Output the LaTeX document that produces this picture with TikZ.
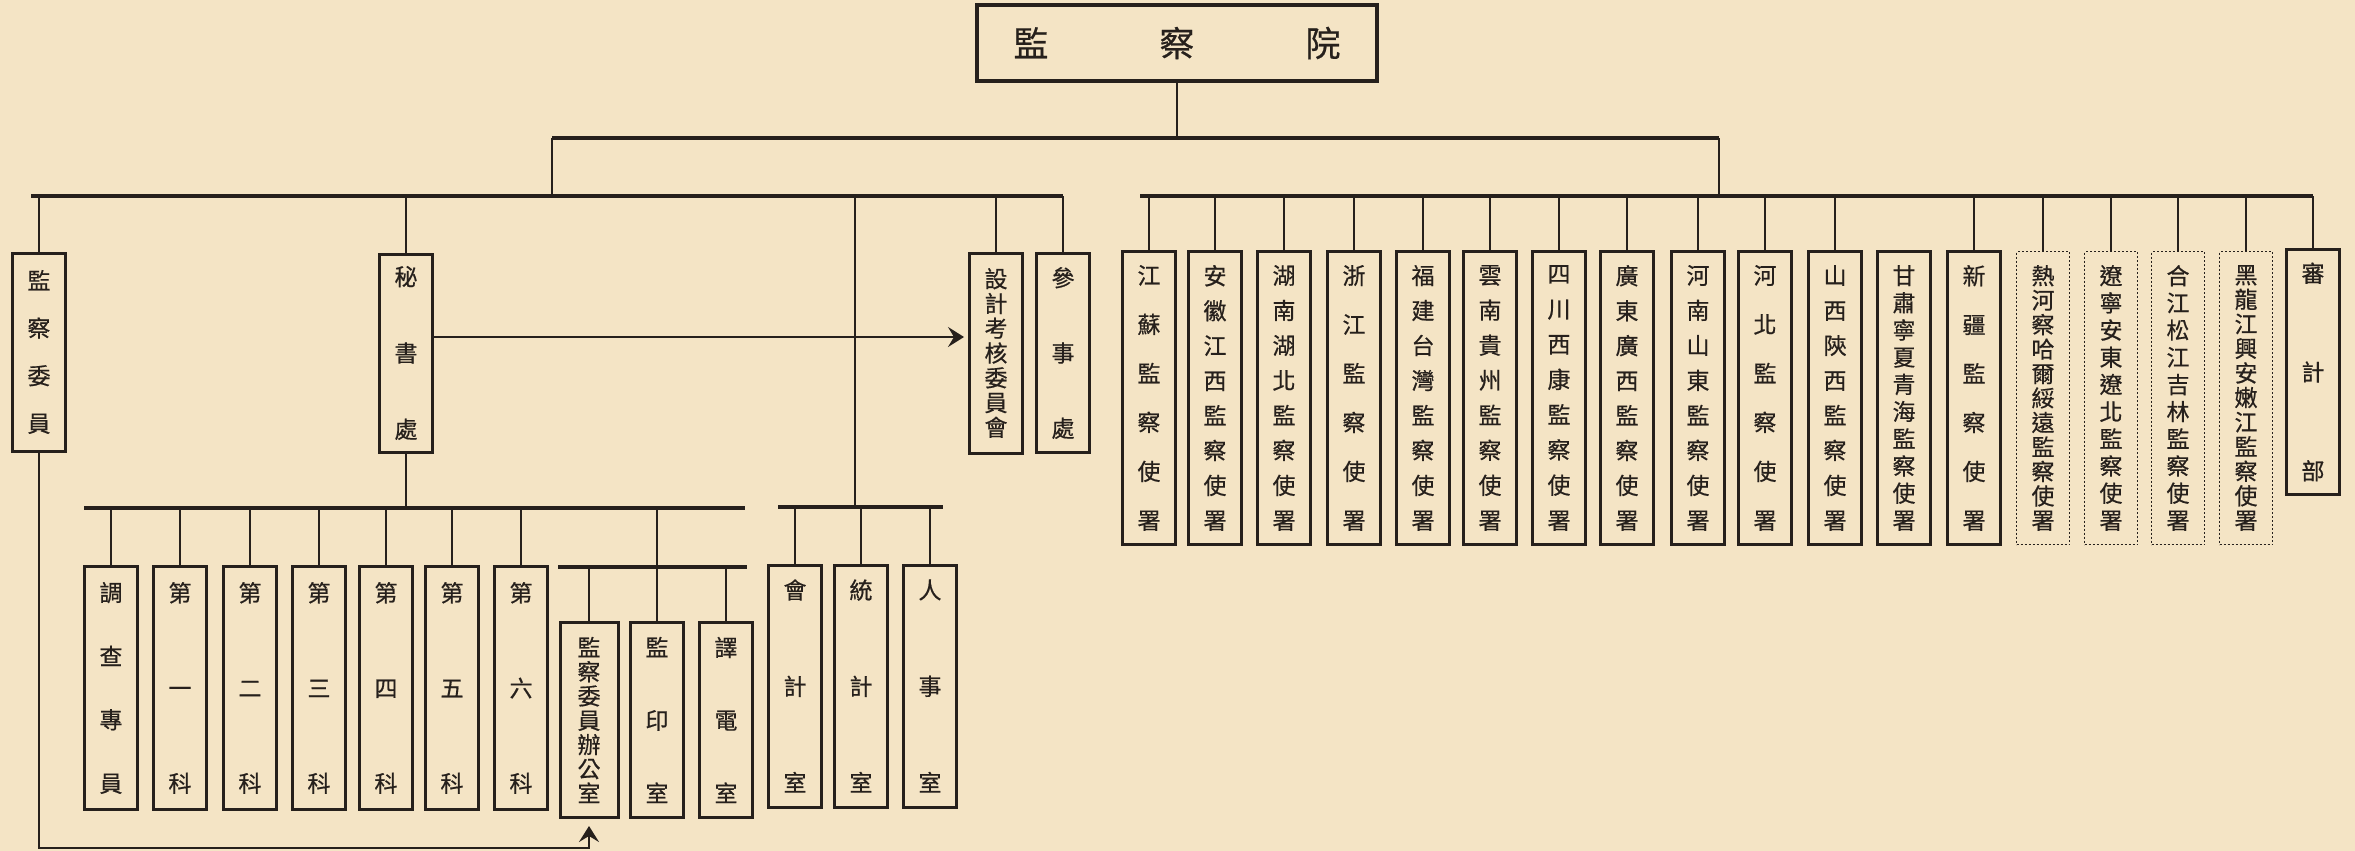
\documentclass[tikz,border=0pt]{standalone}
\usepackage{fontspec}
\newfontfamily\cjk[FakeBold=0.6]{Noto Sans CJK TC}
\usetikzlibrary{arrows.meta}

\definecolor{paper}{RGB}{244,228,197}
\definecolor{ink}{RGB}{38,32,28}

% vertical label: characters spread over a given height
\newcommand{\vt}[2]{\parbox[c][#1][s]{30pt}{\centering\foreach \ch [count=\idx] in {#2}{\ifnum\idx>1 \vfill\fi\ch\par}}}

\tikzset{
  box/.style={draw=ink, line width=3pt, inner sep=0pt, minimum width=53pt, text=ink, font=\cjk\fontsize{23}{23}\selectfont},
  dotbox/.style={box, line width=1.5pt, dash pattern=on 2pt off 2pt},
  link/.style={draw=ink, line width=2.4pt},
  bus/.style={draw=ink, line width=3.2pt},
}

\begin{document}
\begin{tikzpicture}[x=1pt, y=-1pt, >={Stealth[length=16pt,width=20pt,inset=6pt]}]

    \useasboundingbox (0,0) rectangle (2355,851);
    \fill[paper] (0,0) rectangle (2355,851);

	% Head office
	\node[draw=ink, line width=3.5pt, minimum width=400pt, minimum height=76pt, text=ink, font=\cjk\fontsize{35}{35}\selectfont] (jcy) at (1177,43) {監\hspace{111pt}察\hspace{111pt}院};

	% First row, left group
	\node[box, minimum height=198pt] (jcwy) at (39,352) {\vt{162pt}{監,察,委,員}};
	\node[box, minimum height=198pt] (msc) at (406,353) {\vt{172pt}{秘,書,處}};
	\node[box, minimum height=200pt] (sjkh) at (996,353) {\vt{168pt}{設,計,考,核,委,員,會}};
	\node[box, minimum height=199pt] (cs) at (1063,353) {\vt{170pt}{參,事,處}};

	% First row, provincial offices
	\node[box, minimum height=293pt] (js) at (1149,398) {\vt{264pt}{江,蘇,監,察,使,署}};
	\node[box, minimum height=293pt] (ahjx) at (1215,398) {\vt{264pt}{安,徽,江,西,監,察,使,署}};
	\node[box, minimum height=293pt] (hnhb) at (1284,398) {\vt{264pt}{湖,南,湖,北,監,察,使,署}};
	\node[box, minimum height=293pt] (zj) at (1354,398) {\vt{264pt}{浙,江,監,察,使,署}};
	\node[box, minimum height=293pt] (fjtw) at (1423,398) {\vt{264pt}{福,建,台,灣,監,察,使,署}};
	\node[box, minimum height=293pt] (yngz) at (1490,398) {\vt{264pt}{雲,南,貴,州,監,察,使,署}};
	\node[box, minimum height=293pt] (scxk) at (1559,398) {\vt{264pt}{四,川,西,康,監,察,使,署}};
	\node[box, minimum height=293pt] (gdgx) at (1627,398) {\vt{264pt}{廣,東,廣,西,監,察,使,署}};
	\node[box, minimum height=293pt] (hnsd) at (1698,398) {\vt{264pt}{河,南,山,東,監,察,使,署}};
	\node[box, minimum height=293pt] (hb) at (1765,398) {\vt{264pt}{河,北,監,察,使,署}};
	\node[box, minimum height=293pt] (sxsx) at (1835,398) {\vt{264pt}{山,西,陝,西,監,察,使,署}};
	\node[box, minimum height=293pt] (gsnq) at (1904,398) {\vt{264pt}{甘,肅,寧,夏,青,海,監,察,使,署}};
	\node[box, minimum height=293pt] (xj) at (1974,398) {\vt{264pt}{新,疆,監,察,使,署}};
	\node[dotbox, minimum height=293pt] (rhcs) at (2043,398) {\vt{264pt}{熱,河,察,哈,爾,綏,遠,監,察,使,署}};
	\node[dotbox, minimum height=293pt] (lnad) at (2111,398) {\vt{264pt}{遼,寧,安,東,遼,北,監,察,使,署}};
	\node[dotbox, minimum height=293pt] (hjjl) at (2178,398) {\vt{264pt}{合,江,松,江,吉,林,監,察,使,署}};
	\node[dotbox, minimum height=293pt] (hlxa) at (2246,398) {\vt{264pt}{黑,龍,江,興,安,嫩,江,監,察,使,署}};
	\node[box, minimum height=245pt] (sjb) at (2313,372) {\vt{217pt}{審,計,部}};

	% Second row
	\node[box, minimum height=243pt] (dczy) at (111,688) {\vt{210pt}{調,查,專,員}};
	\node[box, minimum height=243pt] (k1) at (180,688) {\vt{210pt}{第,一,科}};
	\node[box, minimum height=243pt] (k2) at (250,688) {\vt{210pt}{第,二,科}};
	\node[box, minimum height=243pt] (k3) at (319,688) {\vt{210pt}{第,三,科}};
	\node[box, minimum height=243pt] (k4) at (386,688) {\vt{210pt}{第,四,科}};
	\node[box, minimum height=243pt] (k5) at (452,688) {\vt{210pt}{第,五,科}};
	\node[box, minimum height=243pt] (k6) at (521,688) {\vt{210pt}{第,六,科}};
	\node[box, minimum height=195pt, minimum width=58pt] (bgs) at (589,720) {\vt{165pt}{監,察,委,員,辦,公,室}};
	\node[box, minimum height=195pt] (jys) at (657,720) {\vt{165pt}{監,印,室}};
	\node[box, minimum height=195pt] (ydc) at (726,720) {\vt{165pt}{譯,電,室}};
	\node[box, minimum height=242pt] (kjs) at (795,686) {\vt{212pt}{會,計,室}};
	\node[box, minimum height=242pt] (tjs) at (861,686) {\vt{212pt}{統,計,室}};
	\node[box, minimum height=242pt] (rss) at (930,686) {\vt{212pt}{人,事,室}};

	% Bus lines
	\coordinate (l2w) at (552,138);
	\coordinate (l2e) at (1719,138);
	\coordinate (lbw) at (31,196);
	\coordinate (lbe) at (1063,196);
	\coordinate (rbw) at (1140,196);
	\coordinate (rbe) at (2313,196);
	\coordinate (kbw) at (84,508);
	\coordinate (kbe) at (745,508);
	\coordinate (obw) at (558,567);
	\coordinate (obe) at (747,567);
	\coordinate (rsw) at (778,507);
	\coordinate (rsm) at (855,507);
	\coordinate (rse) at (943,507);
	\coordinate (ret) at (40,848);

	\draw[link] (jcy.south) -- (jcy.south |- l2w);
	\draw[bus] (l2w) -- (l2e);
	\draw[link] (l2w) -- (l2w |- lbw);
	\draw[link] (l2e) -- (l2e |- rbw);
	\draw[bus] (lbw) -- (lbe);
	\draw[bus] (rbw) -- (rbe);
	\draw[bus] (kbw) -- (kbe);
	\draw[bus] (obw) -- (obe);
	\draw[bus] (rsw) -- (rse);

	% Drops
	\foreach \n in {jcwy,msc,sjkh,cs}
	    \draw[link] (\n.north) -- (\n.north |- lbw);
	\foreach \n in {js,ahjx,hnhb,zj,fjtw,yngz,scxk,gdgx,hnsd,hb,sxsx,xj,rhcs,lnad,hjjl,hlxa,sjb}
	    \draw[link] (\n.north) -- (\n.north |- rbw);
	\draw[link] (msc.south) -- (msc.south |- kbw);
	\foreach \n in {dczy,k1,k2,k3,k4,k5,k6,jys}
	    \draw[link] (\n.north) -- (\n.north |- kbw);
	\foreach \n in {bgs,ydc}
	    \draw[link] (\n.north) -- (\n.north |- obw);
	\draw[link] (rsm |- lbw) -- (rsm);
	\foreach \n in {kjs,tjs,rss}
	    \draw[link] (\n.north) -- (\n.north |- rsw);

	% Arrows
	\draw[link, ->, shorten >=4pt] ([yshift=16pt]msc.east) -- ([yshift=16pt]sjkh.west);
	\draw[link, ->, shorten >=7pt] (jcwy.south) |- (bgs.south |- ret) -- (bgs.south);

\end{tikzpicture}
\end{document}
